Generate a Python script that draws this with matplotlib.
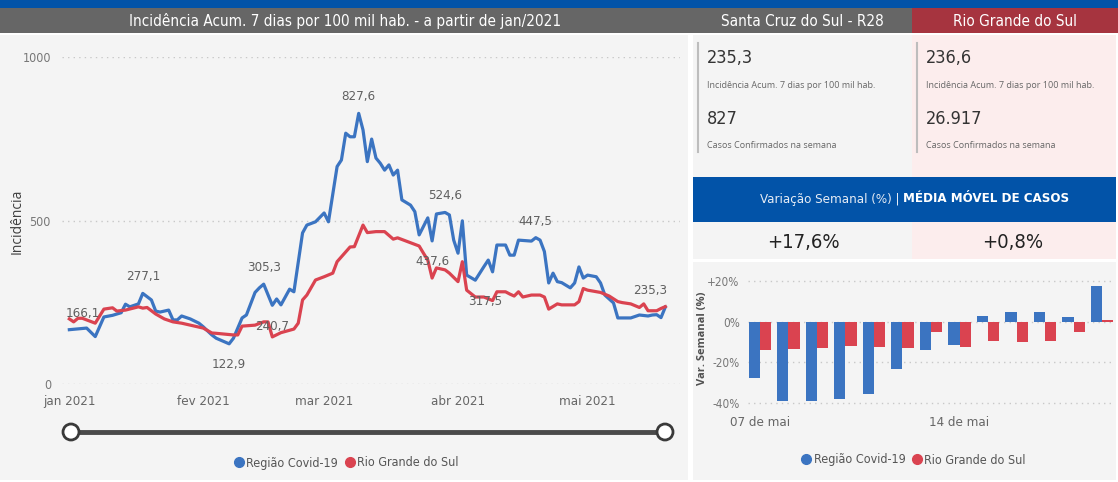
import matplotlib
matplotlib.use("Agg")
import matplotlib.pyplot as plt
from matplotlib.lines import Line2D
from matplotlib.patches import Rectangle, Circle
import pandas as pd
import numpy as np

START = pd.Timestamp("2021-01-01")

regiao_days = [0, 4, 6, 8, 10, 12, 13, 14, 16, 17, 19, 20, 21, 23, 24, 25, 26, 28, 30, 31,
               33, 34, 37, 38, 40, 41, 43, 44, 45, 47, 48, 49, 51, 52, 54, 55, 57, 59, 60, 62,
               63, 64, 65, 66, 67, 68, 69, 70, 71, 72, 73, 74, 75, 76, 77, 79, 80, 81, 83, 84,
               85, 87, 88, 89, 90, 91, 92, 94, 96, 97, 98, 99, 101, 102, 103, 104, 107, 108, 109, 110,
               111, 112, 113, 114, 116, 117, 118, 119, 120, 122, 123, 124, 126, 127, 129, 130, 132, 134, 135, 136,
               137, 138]
regiao_vals = [166.1, 171, 145, 205, 210, 218, 244, 236, 245, 277.1, 257, 223, 220, 226, 196, 196, 208, 199, 186, 175,
               150, 140, 122.9, 140, 202, 211, 280, 294, 305.3, 240.7, 260, 242, 290, 282, 462, 486, 496, 523, 496, 665,
               685, 767, 756, 756, 827.6, 777, 680, 749, 691, 675, 654, 670, 639, 654, 563, 547, 527, 456, 508, 437.6,
               520, 524.6, 517, 440, 400, 499, 333, 317.5, 359, 379, 343, 425, 425, 394, 394, 440, 437, 447.5, 440, 405,
               309, 339, 313, 310, 294, 309, 358, 324, 333, 328, 309, 272, 248, 202, 202, 202, 211, 208, 211, 212,
               203, 235.3]

rs_days = [0, 1, 2, 3, 6, 8, 10, 11, 13, 16, 17, 18, 20, 22, 24, 26, 29, 31, 33, 34,
           38, 39, 40, 43, 45, 46, 47, 49, 52, 53, 54, 55, 57, 59, 61, 62, 65, 66, 68, 69,
           71, 73, 75, 76, 79, 81, 82, 83, 84, 85, 87, 88, 90, 91, 92, 94, 96, 98, 99, 101,
           102, 103, 104, 105, 107, 109, 110, 111, 113, 114, 117, 118, 119, 120, 123, 125, 127, 128, 130, 132,
           133, 134, 136, 137, 138]
rs_vals = [199, 190, 201, 201, 186, 229, 233, 223, 226, 236, 232, 234, 214, 199, 190, 186, 177, 171, 156, 155,
           150, 150, 177, 180, 190, 190, 144, 157, 168, 186, 257, 272, 318, 328, 339, 374, 419, 420, 486, 463,
           466, 466, 443, 447, 432, 422, 400, 379, 324, 355, 349, 339, 313, 374, 287, 266, 266, 255, 282, 282,
           275, 269, 282, 266, 272, 272, 266, 229, 245, 242, 242, 252, 292, 287, 280, 269, 252, 249, 245, 234,
           245, 224, 224, 231, 236.6]

# labelled points of the Região series (day, placed above?)
label_days = [0, 17, 37, 45, 47, 67, 84, 87, 94, 108, 138]
label_above = [True, True, False, True, False, True, False, True, False, True, True]

month_ticks = ["2021-01-01", "2021-02-01", "2021-03-01", "2021-04-01", "2021-05-01"]
month_labels = ["jan 2021", "fev 2021", "mar 2021", "abr 2021", "mai 2021"]

bar_days = ["07 de mai", "08 de mai", "09 de mai", "10 de mai", "11 de mai", "12 de mai", "13 de mai",
            "14 de mai", "15 de mai", "16 de mai", "17 de mai", "18 de mai", "19 de mai"]
bar_regiao = [-27.4, -38.9, -38.9, -38.0, -35.6, -23.3, -13.8, -11.5, 2.8, 4.6, 4.6, 2.5, 17.6]
bar_rs = [-13.9, -13.6, -13.1, -12.0, -12.6, -13.1, -4.9, -12.3, -9.3, -9.8, -9.5, -5.2, 0.8]

card_names = ["Santa Cruz do Sul - R28", "Rio Grande do Sul"]
card_incid = ["235,3", "236,6"]
card_casos = ["827", "26.917"]
card_var = ["+17,6%", "+0,8%"]

# ---- style ----
BLUE = "#3B74C1"
RED = "#DA4350"
W, H = 1118, 482
NARROW = dict(family="DejaVu Sans", fontstretch="condensed")
UI = dict(family=["Open Sans", "DejaVu Sans"])


def box(x0, y0, x1, y1):
    return [x0 / W, 1 - y1 / H, (x1 - x0) / W, (y1 - y0) / H]


fig = plt.figure(figsize=(W / 100, H / 100), dpi=100)
fig.patch.set_facecolor("white")

# background canvas in pixel coordinates
bg = fig.add_axes([0, 0, 1, 1])
bg.set_xlim(0, W)
bg.set_ylim(H, 0)
bg.axis("off")


def rect(x0, y0, x1, y1, color):
    bg.add_patch(Rectangle((x0, y0), x1 - x0, y1 - y0, facecolor=color, edgecolor="none"))


rect(0, 0, W, 8, "#0253A8")
rect(0, 8, 692, 33, "#666666")
rect(692, 8, 912, 33, "#666666")
rect(912, 8, W, 33, "#A6343F")
rect(0, 35, 688, 480, "#F4F4F4")
rect(693, 35, 912, 177, "#F4F4F4")
rect(912, 35, 1116, 177, "#FCEDED")
rect(693, 177, 1116, 222, "#0253A8")
rect(693, 222, 912, 259, "#F4F4F4")
rect(912, 222, 1116, 259, "#FCEDED")
rect(693, 262, 1116, 480, "#F4F4F4")

bg.text(345, 21, "Incidência Acum. 7 dias por 100 mil hab. - a partir de jan/2021", color="white",
        fontsize=11, ha="center", va="center", **NARROW)
bg.text(802, 21, card_names[0], color="white", fontsize=11, ha="center", va="center", **NARROW)
bg.text(1015, 21, card_names[1], color="white", fontsize=11, ha="center", va="center", **NARROW)

# KPI cards
for cx, i in [(698, 0), (917, 1)]:
    bg.plot([cx, cx], [43, 152], color="#BDBDBD", lw=1.5)
    bg.text(cx + 9, 58, card_incid[i], fontsize=13, color="#333333", va="center", **NARROW)
    bg.text(cx + 9, 86, "Incidência Acum. 7 dias por 100 mil hab.", fontsize=6.5,
            color="#666666", va="center", **UI)
    bg.text(cx + 9, 119, card_casos[i], fontsize=13, color="#333333", va="center", **NARROW)
    bg.text(cx + 9, 146, "Casos Confirmados na semana", fontsize=6.5, color="#666666", va="center", **UI)

bg.text(899, 199, "Variação Semanal (%) |", color="#E6ECF5", fontsize=9.5,
        ha="right", va="center", **NARROW)
bg.text(903, 199, "MÉDIA MÓVEL DE CASOS", color="white", fontsize=9.5,
        fontweight="bold", ha="left", va="center", **NARROW)
bg.text(803, 243, card_var[0], fontsize=14.5, color="#222222", ha="center", va="center", **NARROW)
bg.text(1013, 243, card_var[1], fontsize=14.5, color="#222222", ha="center", va="center", **NARROW)

# slider
bg.plot([71, 665], [432, 432], color="#4A4A4A", lw=3.5, solid_capstyle="butt")
for sx in [71, 665]:
    bg.add_patch(Circle((sx, 432), 8, facecolor="white", edgecolor="#3A3A3A", lw=2, zorder=3))

bg.text(17, 221, "Incidência", rotation=90, fontsize=10, color="#404040",
        ha="center", va="center", **UI)
bg.text(702, 338, "Var. Semanal (%)", rotation=90, fontsize=8, color="#505050",
        fontweight="bold", ha="center", va="center", **UI)

# ---- main line chart ----
ax = fig.add_axes(box(62, 57, 680, 384))
ax.set_facecolor("none")
reg_dates = START + pd.to_timedelta(regiao_days, unit="D")
rs_dates = START + pd.to_timedelta(rs_days, unit="D")
ax.plot(reg_dates, regiao_vals, color=BLUE, lw=2.3, solid_joinstyle="round", zorder=3)
ax.plot(rs_dates, rs_vals, color=RED, lw=2.3, solid_joinstyle="round", zorder=3)

ax.set_xlim(START - pd.Timedelta(days=1.7), START + pd.Timedelta(days=141.4))
ax.set_ylim(0, 1000)
ax.set_yticks([0, 500, 1000])
ax.set_yticklabels(["0", "500", "1000"], fontsize=9, color="#777777", **NARROW)
ax.set_xticks(pd.to_datetime(month_ticks))
ax.set_xticklabels(month_labels, fontsize=9.5, color="#666666", **NARROW)
ax.tick_params(axis="both", length=0)
ax.tick_params(axis="y", pad=8)
ax.tick_params(axis="x", pad=8)
ax.grid(axis="y", color="#C8C8C8", lw=1, linestyle=(0, (1, 3)))
ax.set_axisbelow(True)
for s in ax.spines.values():
    s.set_visible(False)

reg_lookup = dict(zip(regiao_days, regiao_vals))
for d, up in zip(label_days, label_above):
    v = reg_lookup[d]
    dx = 0
    if d == 0:
        dx = 10
    if d == 138:
        dx = -11
    if d == 94:
        dx = 7
    ax.annotate(f"{v:.1f}".replace(".", ","), (START + pd.Timedelta(days=d), v),
                xytext=(dx, 12 if up else -15), textcoords="offset points",
                ha="center", va="center", fontsize=9.5, color="#606060", zorder=4, **NARROW)

handles = [Line2D([], [], marker="o", ls="none", color=BLUE, markersize=7),
           Line2D([], [], marker="o", ls="none", color=RED, markersize=7)]
legend_font = {"family": "DejaVu Sans", "stretch": "condensed", "size": 9}
fig.legend(handles, ["Região Covid-19", "Rio Grande do Sul"], loc="center",
           bbox_to_anchor=(345 / W, 1 - 463 / H), ncol=2, frameon=False,
           handletextpad=0.0, columnspacing=0.3, handlelength=1.2,
           prop=legend_font, labelcolor="#555555")

# ---- weekly variation bars ----
bx = fig.add_axes(box(748, 270, 1112, 410))
bx.set_facecolor("none")
pos = np.arange(len(bar_days))
bw = 0.4
bx.bar(pos - bw / 2, bar_regiao, width=bw, color=BLUE, zorder=3)
bx.bar(pos + bw / 2, bar_rs, width=bw, color=RED, zorder=3, clip_on=False)
bx.set_xlim(-0.42, 12.35)
bx.set_ylim(-43.3, 25.3)
bx.set_yticks([20, 0, -20, -40])
bx.set_yticklabels(["+20%", "0%", "-20%", "-40%"], fontsize=8.5, color="#777777", **NARROW)
bx.set_xticks([0, 7])
bx.set_xticklabels([bar_days[0], bar_days[7]], fontsize=9.5, color="#666666", **NARROW)
bx.tick_params(axis="both", length=0)
bx.tick_params(axis="y", pad=6)
bx.tick_params(axis="x", pad=4)
bx.grid(axis="y", color="#C8C8C8", lw=1, linestyle=(0, (1, 3)))
bx.set_axisbelow(True)
for s in bx.spines.values():
    s.set_visible(False)

fig.legend(handles, ["Região Covid-19", "Rio Grande do Sul"], loc="center",
           bbox_to_anchor=(912 / W, 1 - 460 / H), ncol=2, frameon=False,
           handletextpad=0.0, columnspacing=0.3, handlelength=1.2,
           prop=legend_font, labelcolor="#555555")

fig.savefig("out.png", dpi=100)
